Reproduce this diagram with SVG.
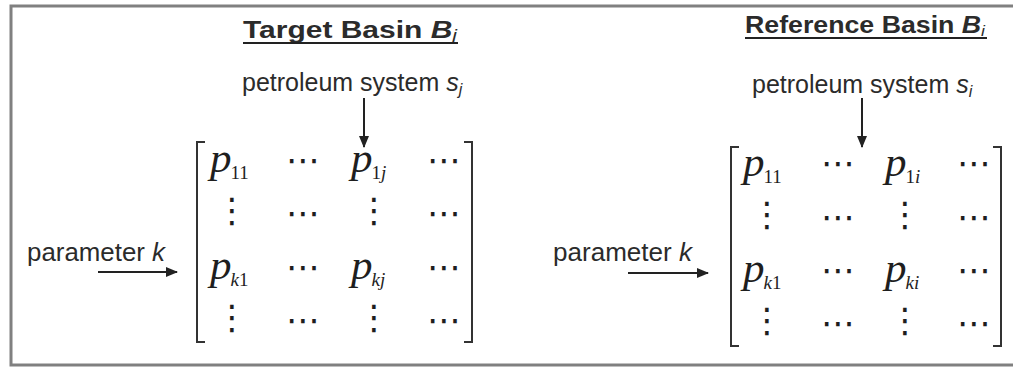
<svg xmlns="http://www.w3.org/2000/svg" width="1013" height="368" viewBox="0 0 1013 368">
<style>
.sans{font-family:"Liberation Sans",Arial,sans-serif;fill:#2b2b2b}
.title{font-weight:bold;font-size:23px}
.lbl{font-size:25px}
.p{font-family:"Liberation Serif","Times New Roman",serif;font-style:italic;font-size:43px;fill:#1e1e1e}
.sd{font-style:normal;font-size:19px}
.si{font-style:italic;font-size:19px}
.hd{font-family:"DejaVu Sans",sans-serif;font-size:34px;fill:#1e1e1e;text-anchor:middle}
.vd{font-family:"DejaVu Sans",sans-serif;font-size:34px;fill:#1e1e1e;text-anchor:middle}
.br{fill:none;stroke:#333;stroke-width:2}
.conn{stroke:#222;stroke-width:2;fill:none}
.ul{stroke:#222;stroke-width:2}
</style>
<defs>
<marker id="ah" markerUnits="userSpaceOnUse" markerWidth="12" markerHeight="10" refX="11" refY="5" orient="auto">
<path d="M0,0 L12,5 L0,10 z" fill="#222"/>
</marker>
</defs>
<rect x="0" y="0" width="1013" height="368" fill="#fff"/>
<rect id="frame" x="11" y="6" width="1012" height="359" fill="none" stroke="#808080" stroke-width="3"/>

<g id="target-title">
<text class="sans title" x="243" y="38" textLength="214" lengthAdjust="spacingAndGlyphs">Target Basin <tspan font-style="italic">B</tspan><tspan font-style="italic" font-weight="normal" font-size="16" dy="3">j</tspan></text>
<line class="ul" x1="243" y1="43" x2="458" y2="43"/>
</g>
<g id="reference-title">
<text class="sans title" x="745" y="33" font-size="21" textLength="240" lengthAdjust="spacingAndGlyphs">Reference Basin <tspan font-style="italic">B</tspan><tspan font-style="italic" font-weight="normal" font-size="15" dy="3">i</tspan></text>
<line class="ul" x1="745" y1="38" x2="987" y2="38"/>
</g>

<g id="target-system">
<text class="sans lbl" x="242" y="91">petroleum system <tspan font-style="italic">s</tspan><tspan font-style="italic" font-size="16" dy="4">j</tspan></text>
</g>
<g id="reference-system">
<text class="sans lbl" x="752" y="93">petroleum system <tspan font-style="italic">s</tspan><tspan font-style="italic" font-size="16" dy="4">i</tspan></text>
</g>

<g id="target-param">
<text class="sans lbl" x="27" y="261" textLength="138" lengthAdjust="spacingAndGlyphs">parameter <tspan font-style="italic">k</tspan></text>
</g>
<g id="reference-param">
<text class="sans lbl" x="553" y="261" textLength="139" lengthAdjust="spacingAndGlyphs">parameter <tspan font-style="italic">k</tspan></text>
</g>

<g id="target-matrix">
<path class="br" d="M205,142 H197 V342 H205"/>
<path class="br" d="M464,142 H472 V342 H464"/>
<text class="p" x="210" y="172">p<tspan class="sd" dx="-1" dy="7">11</tspan></text>
<text class="hd" x="303" y="172">⋯</text>
<text class="p" x="351" y="172">p<tspan class="sd" dx="-1" dy="7">1</tspan><tspan class="si">j</tspan></text>
<text class="hd" x="444" y="172">⋯</text>
<text class="vd" x="232" y="222">⋮</text>
<text class="hd" x="303" y="225">⋯</text>
<text class="vd" x="374" y="222">⋮</text>
<text class="hd" x="444" y="225">⋯</text>
<text class="p" x="210" y="279">p<tspan class="si" dx="-1" dy="7">k</tspan><tspan class="sd">1</tspan></text>
<text class="hd" x="303" y="279">⋯</text>
<text class="p" x="351" y="279">p<tspan class="si" dx="-1" dy="7">kj</tspan></text>
<text class="hd" x="444" y="279">⋯</text>
<text class="vd" x="232" y="329">⋮</text>
<text class="hd" x="303" y="332">⋯</text>
<text class="vd" x="374" y="329">⋮</text>
<text class="hd" x="444" y="332">⋯</text>
</g>

<g id="reference-matrix">
<path class="br" d="M739,147 H731 V346 H739"/>
<path class="br" d="M993,147 H1001 V346 H993"/>
<text class="p" x="743" y="176">p<tspan class="sd" dx="-1" dy="7">11</tspan></text>
<text class="hd" x="838" y="175">⋯</text>
<text class="p" x="885" y="176">p<tspan class="sd" dx="-1" dy="7">1</tspan><tspan class="si">i</tspan></text>
<text class="hd" x="974" y="175">⋯</text>
<text class="vd" x="767" y="226">⋮</text>
<text class="hd" x="838" y="229">⋯</text>
<text class="vd" x="905" y="226">⋮</text>
<text class="hd" x="974" y="229">⋯</text>
<text class="p" x="743" y="282">p<tspan class="si" dx="-1" dy="7">k</tspan><tspan class="sd">1</tspan></text>
<text class="hd" x="838" y="282">⋯</text>
<text class="p" x="885" y="282">p<tspan class="si" dx="-1" dy="7">ki</tspan></text>
<text class="hd" x="974" y="282">⋯</text>
<text class="vd" x="767" y="332">⋮</text>
<text class="hd" x="838" y="335">⋯</text>
<text class="vd" x="905" y="332">⋮</text>
<text class="hd" x="974" y="335">⋯</text>
</g>

<g id="connectors">
<line class="conn" x1="364" y1="98" x2="364" y2="147" marker-end="url(#ah)"/>
<line class="conn" x1="862" y1="98" x2="862" y2="147" marker-end="url(#ah)"/>
<line class="conn" x1="98" y1="272" x2="177" y2="272" marker-end="url(#ah)"/>
<line class="conn" x1="628" y1="273" x2="708" y2="273" marker-end="url(#ah)"/>
</g>
</svg>
